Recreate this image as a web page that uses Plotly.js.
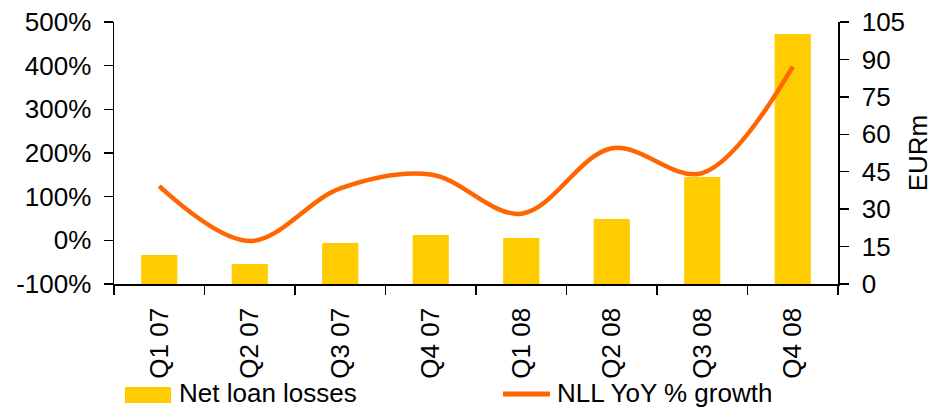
<!DOCTYPE html>
<html>
<head>
<meta charset="utf-8">
<script src="https://cdn.plot.ly/plotly-3.0.1.min.js"></script>
<style>
  html, body { margin: 0; padding: 0; background: #fff; }
  #chart { width: 933px; height: 409px; }
</style>
</head>
<body>
<div id="chart"></div>
<script>
// ---- Data ----
const categories = ['Q1 07', 'Q2 07', 'Q3 07', 'Q4 07', 'Q1 08', 'Q2 08', 'Q3 08', 'Q4 08'];
const netLoanLosses = [11.6, 8.0, 16.4, 19.6, 18.4, 26.0, 42.9, 100.2];   // EURm (right axis)
const nllYoYGrowth = [124, -1.5, 119, 151, 61, 211, 154, 398];            // % (left axis)
const seriesNames = ['Net loan losses', 'NLL YoY % growth'];
const pctTickValues = [-100, 0, 100, 200, 300, 400, 500];
const pctTickLabels = ['-100%', '0%', '100%', '200%', '300%', '400%', '500%'];
const eurTickValues = [0, 15, 30, 45, 60, 75, 90, 105];
const eurTickLabels = ['0', '15', '30', '45', '60', '75', '90', '105'];

const YELLOW = '#FFCC00';
const ORANGE = '#FF6600';
const FONT = { family: 'Liberation Sans, Arial, sans-serif', size: 26, color: '#000' };

// plot-area pixel box helpers for the hand-drawn legend
const L = 114, R = 95, T = 22, B = 125, W = 933, H = 409;
const PW = W - L - R, PH = H - T - B;
const px = x => (x - L) / PW;
const py = y => (H - B - y) / PH;

const traces = [
  {
    type: 'bar',
    name: seriesNames[0],
    x: categories,
    y: netLoanLosses,
    yaxis: 'y',
    marker: { color: YELLOW, line: { width: 0 } },
    showlegend: false
  },
  {
    type: 'scatter',
    mode: 'lines',
    name: seriesNames[1],
    x: categories,
    y: nllYoYGrowth,
    yaxis: 'y2',
    line: { color: ORANGE, width: 4.5, shape: 'spline', smoothing: 1 },
    showlegend: false
  }
];

const layout = {
  width: W,
  height: H,
  margin: { l: L, r: R, t: T, b: B, pad: 0 },
  paper_bgcolor: '#fff',
  plot_bgcolor: 'rgba(0,0,0,0)',
  font: FONT,
  bargap: 0.6,
  showlegend: false,
  xaxis: {
    type: 'category',
    range: [-0.5, 7.5],
    showgrid: false,
    zeroline: false,
    showline: true,
    linecolor: '#000',
    linewidth: 1.5,
    ticks: 'outside',
    tickson: 'boundaries',
    ticklen: 9,
    tickwidth: 1.5,
    tickcolor: '#000',
    tickangle: -90,
    ticklabelstandoff: 12,
    tickfont: FONT
  },
  yaxis: {
    side: 'right',
    range: [0, 105],
    tickmode: 'array',
    tickvals: eurTickValues,
    ticktext: eurTickLabels,
    showgrid: false,
    zeroline: false,
    showline: true,
    linecolor: '#000',
    linewidth: 1.5,
    ticks: 'outside',
    ticklen: 9,
    tickwidth: 1.5,
    tickcolor: '#000',
    ticklabelstandoff: 8,
    tickfont: FONT,
    title: { text: 'EURm', font: FONT, standoff: 12 }
  },
  yaxis2: {
    overlaying: 'y',
    side: 'left',
    range: [-100, 500],
    tickmode: 'array',
    tickvals: pctTickValues,
    ticktext: pctTickLabels,
    showgrid: false,
    zeroline: false,
    showline: true,
    linecolor: '#000',
    linewidth: 1.5,
    ticks: 'outside',
    ticklen: 9,
    tickwidth: 1.5,
    tickcolor: '#000',
    ticklabelstandoff: 7,
    tickfont: FONT
  },
  shapes: [
    { type: 'rect', xref: 'paper', yref: 'paper',
      x0: px(125), x1: px(171), y0: py(403), y1: py(387),
      fillcolor: YELLOW, line: { width: 0 } },
    { type: 'line', xref: 'paper', yref: 'paper',
      x0: px(503), x1: px(550), y0: py(394), y1: py(394),
      line: { color: ORANGE, width: 5 } }
  ],
  annotations: [
    { xref: 'paper', yref: 'paper', x: px(177), y: py(393),
      xanchor: 'left', yanchor: 'middle', showarrow: false,
      text: seriesNames[0], font: FONT },
    { xref: 'paper', yref: 'paper', x: px(555), y: py(393),
      xanchor: 'left', yanchor: 'middle', showarrow: false,
      text: seriesNames[1], font: FONT }
  ]
};

Plotly.newPlot('chart', traces, layout, { displayModeBar: false, staticPlot: true });
</script>
</body>
</html>
